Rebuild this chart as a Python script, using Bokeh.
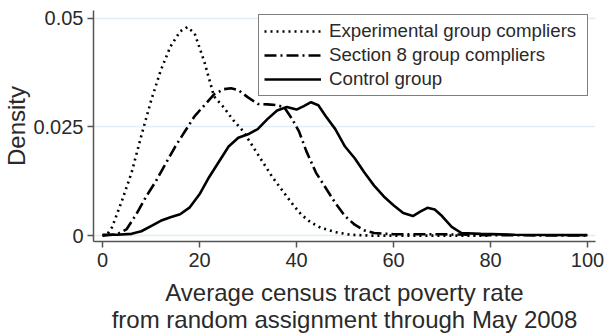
from bokeh.plotting import figure
from bokeh.models import Range1d, Legend, LegendItem, FixedTicker
from bokeh.embed import file_html
from bokeh.resources import INLINE

# ---- data ----
exp_x = [0, 1, 2, 4, 6, 8, 10, 12, 14, 16, 17.5, 19, 21, 23, 25, 27, 29, 31, 33, 35,
         37, 39, 41, 43, 45, 48, 51, 55, 65, 80]
exp_y = [0, 0.0003, 0.002, 0.008, 0.0145, 0.023, 0.031, 0.038, 0.0435, 0.047, 0.048,
         0.0465, 0.040, 0.032, 0.0295, 0.0265, 0.024, 0.0205, 0.017, 0.0135,
         0.0105, 0.0075, 0.0048, 0.003, 0.0018, 0.0008, 0.0002, 0, 0, 0]

s8_x = [0, 3, 5, 7, 9, 11, 13, 15, 17, 19, 21, 23, 25, 26.5, 28, 30, 32, 34, 36, 37.5,
        39, 40.5, 42, 44, 46, 48, 50, 52, 54, 56, 60, 70, 80, 100]
s8_y = [0, 0.0003, 0.0015, 0.005, 0.009, 0.0125, 0.0165, 0.0205, 0.024, 0.0275, 0.030,
        0.0325, 0.0337, 0.0339, 0.0335, 0.0318, 0.0303, 0.0302, 0.0300, 0.0295,
        0.027, 0.024, 0.0195, 0.0145, 0.011, 0.0075, 0.0045, 0.0025, 0.0012, 0.0006,
        0.0003, 0.0003, 0.0001, 0]

ctl_x = [0, 3, 6, 8, 10, 12, 14, 16, 18, 20, 22, 24, 26, 28, 30, 32, 34, 36, 38, 40,
         41.5, 43, 44.5, 46, 48, 50, 52, 54, 56, 58, 60, 62, 64, 65.5, 67, 68.5, 70,
         72, 74, 78, 85, 100]
ctl_y = [0.0002, 0.0002, 0.0004, 0.001, 0.0022, 0.0034, 0.0042, 0.0049, 0.0065, 0.0095,
         0.0135, 0.017, 0.0205, 0.0225, 0.0233, 0.0245, 0.0268, 0.0288, 0.0296, 0.029,
         0.0298, 0.0307, 0.030, 0.0275, 0.0245, 0.0205, 0.0178, 0.0145, 0.0115, 0.009,
         0.007, 0.0052, 0.0045, 0.0055, 0.0064, 0.006, 0.0045, 0.002, 0.0006, 0.0004,
         0.0002, 0.0001]

series_labels = ["Experimental group compliers", "Section 8 group compliers", "Control group"]
x_ticks = [0, 20, 40, 60, 80, 100]
y_ticks = [0, 0.025, 0.05]
y_tick_labels = ["0", "0.025", "0.05"]
x_title = "Average census tract poverty rate\nfrom random assignment through May 2008"

FONT = "Liberation Sans"
TXT = "#2a2a2a"

p = figure(width=607, height=335, output_backend="svg", toolbar_location=None,
           x_range=Range1d(-1.86, 101.65), y_range=Range1d(-0.00136, 0.0518),
           min_border_left=93, min_border_right=12, min_border_top=10, min_border_bottom=91)
p.outline_line_color = None
p.background_fill_color = "white"

r1 = p.line(exp_x, exp_y, line_color="black", line_width=2.6, line_dash="2 4")
r2 = p.line(s8_x, s8_y, line_color="black", line_width=2.6, line_dash="12 4 2 4")
r3 = p.line(ctl_x, ctl_y, line_color="black", line_width=2.6)

# axes
p.xaxis.ticker = FixedTicker(ticks=x_ticks)
p.yaxis.ticker = FixedTicker(ticks=y_ticks)
p.yaxis.major_label_overrides = {t: l for t, l in zip(y_ticks, y_tick_labels)}
for ax in (p.xaxis, p.yaxis):
    ax.axis_line_color = "#555555"
    ax.axis_line_width = 1.5
    ax.major_tick_line_color = "#555555"
    ax.major_tick_line_width = 1.5
    ax.major_tick_out = 6
    ax.major_tick_in = 0
    ax.minor_tick_line_color = None
    ax.major_label_text_font = FONT
    ax.major_label_text_font_size = "20px"
    ax.major_label_text_color = TXT
    ax.axis_label_text_font = FONT
    ax.axis_label_text_font_style = "normal"
    ax.axis_label_text_color = TXT
    ax.axis_label_text_font_size = "24px"
p.yaxis.major_label_standoff = 4
p.yaxis.axis_label = "Density"
p.yaxis.axis_label_standoff = 0
p.xaxis.major_label_standoff = 5
p.xaxis.axis_label = x_title
p.xaxis.axis_label_standoff = 9
p.xaxis.axis_label_text_line_height = 1.0

p.xgrid.grid_line_color = None
p.ygrid.grid_line_color = "#e2edf4"
p.ygrid.grid_line_width = 1.5

legend = Legend(items=[LegendItem(label=series_labels[0], renderers=[r1]),
                       LegendItem(label=series_labels[1], renderers=[r2]),
                       LegendItem(label=series_labels[2], renderers=[r3])],
                location=(165, 145))
legend.border_line_color = "black"
legend.border_line_width = 1.5
legend.background_fill_alpha = 1.0
legend.label_text_font = FONT
legend.label_text_font_size = "18.7px"
legend.label_text_color = TXT
legend.glyph_width = 57
legend.glyph_height = 20
legend.label_height = 20
legend.label_width = 253
legend.label_standoff = 8
legend.spacing = 2
legend.padding = 5
legend.margin = 0
p.add_layout(legend, "center")

open("out.html", "w").write(file_html(p, INLINE))
